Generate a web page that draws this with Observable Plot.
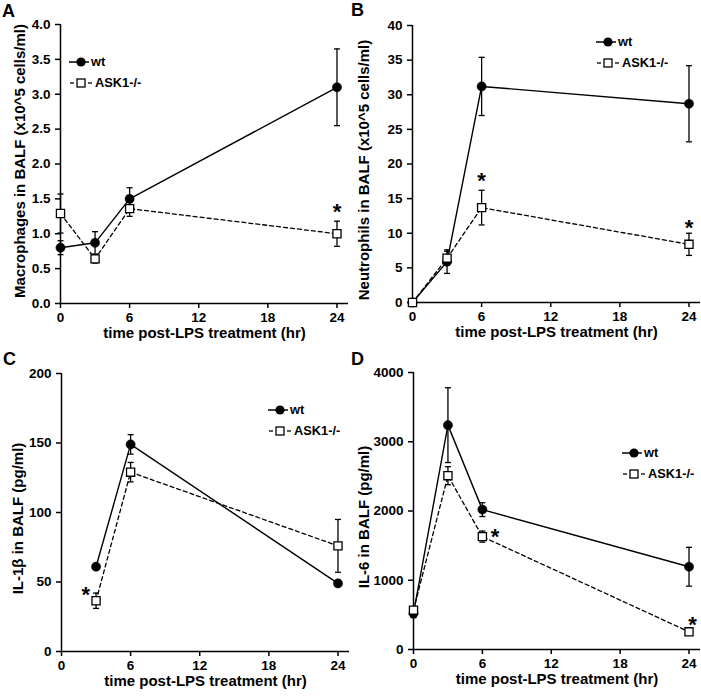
<!DOCTYPE html>
<html>
<head>
<meta charset="utf-8">
<script src="https://cdn.jsdelivr.net/npm/d3@7"></script>
<script src="https://cdn.jsdelivr.net/npm/@observablehq/plot@0.6"></script>
<style>
  html, body { margin: 0; padding: 0; background: white; }
  #root { position: relative; width: 701px; height: 696px; background: white; overflow: hidden; }
  .panel { position: absolute; }
  #overlay { position: absolute; left: 0; top: 0; pointer-events: none; }
</style>
</head>
<body>
<div id="root"></div>
<script>
// ---------- data ----------
const xTicks = [0, 6, 12, 18, 24];
const xLabel = "time post-LPS treatment (hr)";
const seriesNames = ["wt", "ASK1-/-"];

// Panel A: macrophages
const timesA = [0, 3, 6, 24];
const wtA = [0.80, 0.87, 1.50, 3.10];
const wtErrA = [0.10, 0.16, 0.16, 0.55];
const koA = [1.29, 0.64, 1.36, 1.00];
const koErrA = [0.28, 0.06, 0.11, 0.18];
const yTicksA = [0, 0.5, 1, 1.5, 2, 2.5, 3, 3.5, 4];
const starsA = [{t: 24, v: 1.40}];
const yLabelA = "Macrophages in BALF (x10^5 cells/ml)";

// Panel B: neutrophils
const timesB = [0, 3, 6, 24];
const wtB = [0, 5.9, 31.2, 28.7];
const wtErrB = [0, 1.7, 4.2, 5.5];
const koB = [0, 6.4, 13.7, 8.4];
const koErrB = [0, 1.0, 2.5, 1.6];
const yTicksB = [0, 5, 10, 15, 20, 25, 30, 35, 40];
const starsB = [{t: 6, v: 18.4}, {t: 24, v: 11.6}];
const yLabelB = "Neutrophils in BALF (x10^5 cells/ml)";

// Panel C: IL-1β
const timesC = [3, 6, 24];
const wtC = [61, 149, 49];
const wtErrC = [1.5, 7, 2];
const koC = [36.5, 129, 76];
const koErrC = [5.5, 7, 19];
const yTicksC = [0, 50, 100, 150, 200];
const starsC = [{t: 2.1, v: 45}];
const yLabelC = "IL-1β in BALF (pg/ml)";

// Panel D: IL-6
const timesD = [0, 3, 6, 24];
const wtD = [520, 3240, 2020, 1195];
const wtErrD = [60, 540, 100, 280];
const koD = [568, 2510, 1630, 255];
const koErrD = [40, 130, 80, 30];
const yTicksD = [0, 1000, 2000, 3000, 4000];
const starsD = [{t: 7.1, v: 1712}, {t: 24.3, v: 448}];
const yLabelD = "IL-6 in BALF (pg/ml)";

// ---------- drawing ----------
const FONT = "'Liberation Sans', Arial, Helvetica, sans-serif";
const cap = {draw(context) { context.moveTo(-3, 0); context.lineTo(3, 0); }};

function makePanel(cfg) {
  const wt = cfg.t.map((t, i) => ({t, v: cfg.wt[i], e: cfg.wtErr[i]}));
  const ko = cfg.t.map((t, i) => ({t, v: cfg.ko[i], e: cfg.koErr[i]}));
  const withErr = (arr) => arr.filter(d => d.e > 0);
  const errMarks = (arr) => [
    Plot.ruleX(withErr(arr), {x: "t", y1: d => d.v - d.e, y2: d => d.v + d.e, stroke: "black", strokeWidth: 1.3}),
    Plot.dot(withErr(arr), {x: "t", y: d => d.v + d.e, symbol: cap, r: 3, fill: "none", stroke: "black", strokeWidth: 1.3}),
    Plot.dot(withErr(arr), {x: "t", y: d => d.v - d.e, symbol: cap, r: 3, fill: "none", stroke: "black", strokeWidth: 1.3})
  ];
  const svg = Plot.plot({
    width: cfg.width, height: cfg.height,
    marginLeft: cfg.ml, marginRight: cfg.mr, marginTop: cfg.mt, marginBottom: cfg.mb,
    style: {background: "transparent", fontFamily: FONT, fontSize: "13.5px", fontWeight: "bold", color: "black", overflow: "visible"},
    x: {domain: [0, 25]},
    y: {domain: cfg.yDomain},
    marks: [
      Plot.axisX({ticks: xTicks, tickSize: 5, tickPadding: 4, strokeWidth: 1.5, label: null, tickFormat: d => String(d)}),
      Plot.axisY({ticks: cfg.yTicks, tickSize: 5, tickPadding: 5, strokeWidth: 1.5, label: null, tickFormat: cfg.fmt}),
      Plot.ruleX([0], {stroke: "black", strokeWidth: 1.5}),
      Plot.ruleY([cfg.yDomain[0]], {stroke: "black", strokeWidth: 1.5}),
      Plot.line(wt, {x: "t", y: "v", stroke: "black", strokeWidth: 1.4}),
      Plot.line(ko, {x: "t", y: "v", stroke: "black", strokeWidth: 1.3, strokeDasharray: "4,3"}),
      ...errMarks(wt),
      ...errMarks(ko),
      Plot.dot(wt, {x: "t", y: "v", r: 4.6, fill: "black", stroke: "black", strokeWidth: 0.5}),
      Plot.dot(ko, {x: "t", y: "v", symbol: "square", r: 4.6, fill: "white", stroke: "black", strokeWidth: 1.3}),
      Plot.text(cfg.stars, {x: "t", y: "v", text: () => "*", fontSize: 22, fontWeight: "bold", dy: 6, fill: "black"}),
      Plot.text([xLabel], {text: d => d, frameAnchor: "bottom", textAnchor: "middle", dy: 34.5, fontSize: 15, fontWeight: "bold", fill: "black"}),
      Plot.text([cfg.yLabel], {text: d => d, frameAnchor: "left", textAnchor: "middle", rotate: -90, dx: cfg.ylx, dy: cfg.yly, fontSize: 15, fontWeight: "bold", fill: "black"})
    ]
  });
  const div = document.createElement("div");
  div.className = "panel";
  div.style.left = cfg.left + "px";
  div.style.top = cfg.top + "px";
  div.appendChild(svg);
  document.getElementById("root").appendChild(div);
}

const f1 = d3.format(".1f");
const fi = d => String(d);

makePanel({left: 0, top: 0, width: 350, height: 350, ml: 60, mr: 2, mt: 24, mb: 47,
  t: timesA, wt: wtA, wtErr: wtErrA, ko: koA, koErr: koErrA, yDomain: [0, 4], yTicks: yTicksA, fmt: f1,
  stars: starsA, yLabel: yLabelA, ylx: -40, yly: -3});
makePanel({left: 350, top: 0, width: 351, height: 350, ml: 62, mr: 1, mt: 25, mb: 48,
  t: timesB, wt: wtB, wtErr: wtErrB, ko: koB, koErr: koErrB, yDomain: [0, 40], yTicks: yTicksB, fmt: fi,
  stars: starsB, yLabel: yLabelB, ylx: -48, yly: 6});
makePanel({left: 0, top: 340, width: 350, height: 356, ml: 61, mr: 1, mt: 33, mb: 45,
  t: timesC, wt: wtC, wtErr: wtErrC, ko: koC, koErr: koErrC, yDomain: [0, 200], yTicks: yTicksC, fmt: fi,
  stars: starsC, yLabel: yLabelC, ylx: -43, yly: 6});
makePanel({left: 350, top: 340, width: 351, height: 356, ml: 63, mr: 1, mt: 32, mb: 47,
  t: timesD, wt: wtD, wtErr: wtErrD, ko: koD, koErr: koErrD, yDomain: [0, 4000], yTicks: yTicksD, fmt: fi,
  stars: starsD, yLabel: yLabelD, ylx: -49, yly: 6});

// ---------- overlay: panel letters + legends ----------
const panelLetters = ["A", "B", "C", "D"];
const letterPos = [[2, 17], [351, 16], [3, 365], [351, 365]];
// [marker centre x, first row y]
const legendPos = [[81, 62], [608, 42], [280, 410], [634, 453]];

const overlay = d3.select("#root").append("svg")
  .attr("id", "overlay").attr("width", 701).attr("height", 696)
  .style("font-family", FONT).style("font-weight", "bold");

panelLetters.forEach((L, i) => {
  overlay.append("text").attr("x", letterPos[i][0]).attr("y", letterPos[i][1])
    .attr("font-size", 18).attr("fill", "black").text(L);
});

legendPos.forEach(([mx, my]) => {
  const g = overlay.append("g").attr("transform", `translate(${mx},${my})`);
  // wt row
  g.append("line").attr("x1", -12).attr("x2", 8).attr("y1", 0).attr("y2", 0).attr("stroke", "black").attr("stroke-width", 1.5);
  g.append("circle").attr("cx", 0).attr("cy", 0).attr("r", 4.6).attr("fill", "black");
  g.append("text").attr("x", 10).attr("y", 0).attr("dy", "0.35em").attr("font-size", 12.8).text(seriesNames[0]);
  // ASK1 row
  const y2 = 21;
  g.append("line").attr("x1", -11).attr("x2", -7).attr("y1", y2).attr("y2", y2).attr("stroke", "black").attr("stroke-width", 1.3);
  g.append("line").attr("x1", 7).attr("x2", 11).attr("y1", y2).attr("y2", y2).attr("stroke", "black").attr("stroke-width", 1.3);
  g.append("rect").attr("x", -4).attr("y", y2 - 4).attr("width", 8).attr("height", 8).attr("fill", "white").attr("stroke", "black").attr("stroke-width", 1.3);
  g.append("text").attr("x", 14).attr("y", y2).attr("dy", "0.35em").attr("font-size", 12.8).text(seriesNames[1]);
});
</script>
</body>
</html>
